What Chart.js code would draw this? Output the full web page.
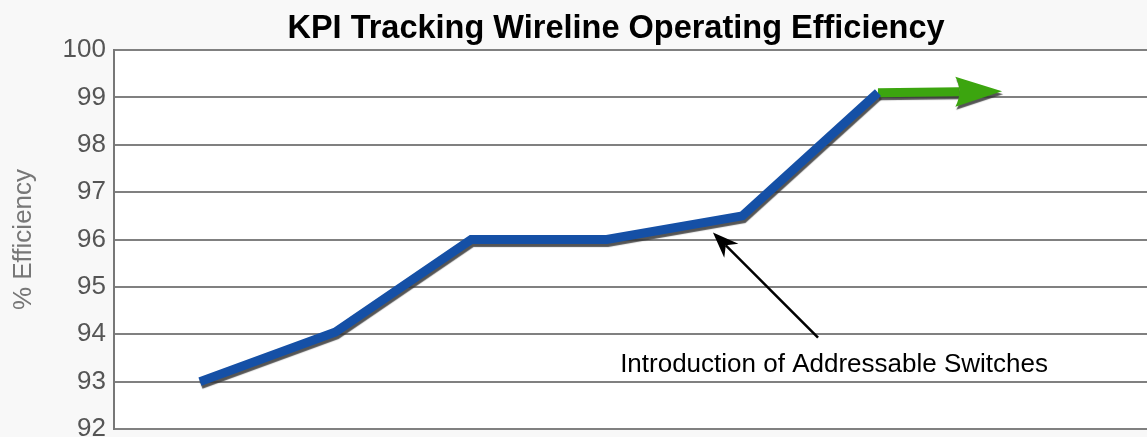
<!DOCTYPE html>
<html>
<head>
<meta charset="utf-8">
<script src="https://cdn.jsdelivr.net/npm/chart.js@4.4.1/dist/chart.umd.min.js"></script>
<style>
    html, body { margin: 0; padding: 0; background: #f8f8f8; }
    #wrap { width: 1147px; height: 437px; position: relative; }
</style>
</head>
<body>
<div id="wrap"><canvas id="kpiChart"></canvas></div>
<script>
// data - START
const periods = [1, 2, 3, 4, 5, 6];
const efficiency = [93.0, 94.05, 96.0, 96.0, 96.5, 99.1];
const trendX = [6, 6.6];
const trendY = [99.1, 99.12];
const trendTip = [6.915, 99.13];
const yTicks = [92, 93, 94, 95, 96, 97, 98, 99, 100];
const noteText = 'Introduction of Addressable Switches';
const noteTip = [4.783, 96.15];
const noteTail = [5.558, 93.93];
const notePos = [5.676, 93.4];
const chartTitle = 'KPI Tracking Wireline Operating Efficiency';
// data - END

const FONT = '"Liberation Sans", Arial, sans-serif';

let shadowPlugin = {
    id: 'lineShadow',
    beforeDatasetDraw(chart) {
        let ctx = chart.ctx;
        ctx.save();
        ctx.shadowColor = 'rgba(55, 55, 55, 0.85)';
        ctx.shadowOffsetX = 1;
        ctx.shadowOffsetY = 3;
        ctx.shadowBlur = 1;
    },
    afterDatasetDraw(chart) {
        chart.ctx.restore();
    }
};

let extrasPlugin = {
    id: 'extras',
    afterDatasetsDraw(chart) {
        let ctx = chart.ctx;
        let xs = chart.scales.x;
        let ys = chart.scales.y;

        // green arrow head
        let bx = xs.getPixelForValue(trendX[trendX.length - 1]);
        let by = ys.getPixelForValue(trendY[trendY.length - 1]);
        let tx = xs.getPixelForValue(trendTip[0]);
        let ty = ys.getPixelForValue(trendTip[1]);
        ctx.save();
        ctx.shadowColor = 'rgba(55, 55, 55, 0.85)';
        ctx.shadowOffsetX = 1;
        ctx.shadowOffsetY = 3;
        ctx.shadowBlur = 1;
        ctx.fillStyle = '#3ca50f';
        ctx.beginPath();
        ctx.moveTo(tx, ty);
        ctx.lineTo(bx - 4, by - 15);
        ctx.quadraticCurveTo(bx + 4, by, bx - 4, by + 15);
        ctx.closePath();
        ctx.fill();
        ctx.restore();

        // annotation arrow
        let ax = xs.getPixelForValue(noteTip[0]);
        let ay = ys.getPixelForValue(noteTip[1]);
        let lx = xs.getPixelForValue(noteTail[0]);
        let ly = ys.getPixelForValue(noteTail[1]);
        let ang = Math.atan2(ay - ly, ax - lx);
        let hl = 26, hw = 10;
        ctx.save();
        ctx.strokeStyle = '#000';
        ctx.fillStyle = '#000';
        ctx.lineWidth = 2.5;
        ctx.beginPath();
        ctx.moveTo(lx, ly);
        ctx.lineTo(ax - Math.cos(ang) * hl * 0.7, ay - Math.sin(ang) * hl * 0.7);
        ctx.stroke();
        ctx.beginPath();
        ctx.moveTo(ax, ay);
        ctx.lineTo(ax - Math.cos(ang) * hl + Math.sin(ang) * hw, ay - Math.sin(ang) * hl - Math.cos(ang) * hw);
        ctx.lineTo(ax - Math.cos(ang) * hl * 0.7, ay - Math.sin(ang) * hl * 0.7);
        ctx.lineTo(ax - Math.cos(ang) * hl - Math.sin(ang) * hw, ay - Math.sin(ang) * hl + Math.cos(ang) * hw);
        ctx.closePath();
        ctx.fill();

        // annotation text
        ctx.font = '26px ' + FONT;
        ctx.textAlign = 'center';
        ctx.textBaseline = 'alphabetic';
        ctx.fillText(noteText, xs.getPixelForValue(notePos[0]), ys.getPixelForValue(notePos[1]) + 9);

        // title
        ctx.font = 'bold 32.5px ' + FONT;
        ctx.fillText(chartTitle, 616, 38);
        ctx.restore();
    }
};

let bgPlugin = {
    id: 'plotBg',
    beforeDraw(chart) {
        let a = chart.chartArea;
        let ctx = chart.ctx;
        ctx.save();
        ctx.fillStyle = '#ffffff';
        ctx.fillRect(a.left, a.top, a.right - a.left, a.bottom - a.top);
        ctx.restore();
    }
};

let ctx = document.getElementById('kpiChart');
let kpiChart = new Chart(ctx, {
    type: 'line',
    data: {
        datasets: [{
            label: 'Efficiency',
            data: periods.map((p, i) => ({ x: p, y: efficiency[i] })),
            borderColor: '#1550a6',
            borderWidth: 9,
            pointRadius: 0,
            tension: 0,
            borderJoinStyle: 'miter',
            borderCapStyle: 'butt'
        }, {
            label: 'Trend',
            data: trendX.map((p, i) => ({ x: p, y: trendY[i] })),
            borderColor: '#3ca50f',
            borderWidth: 9,
            pointRadius: 0,
            borderCapStyle: 'butt'
        }]
    },
    options: {
        responsive: true,
        maintainAspectRatio: false,
        animation: false,
        layout: { padding: { top: 50, right: 0, bottom: 8, left: 0 } },
        plugins: {
            legend: { display: false },
            tooltip: { enabled: false }
        },
        scales: {
            x: {
                type: 'linear',
                min: 0.366,
                max: 7.984,
                display: false
            },
            y: {
                min: 92,
                max: 100,
                afterBuildTicks: (s) => { s.ticks = yTicks.map(v => ({ value: v })); },
                afterFit: (s) => {
                    s.width = 114;
                    s.paddingTop = 0;
                    s.paddingBottom = 0;
                },
                grid: {
                    color: '#808080',
                    lineWidth: 2,
                    drawTicks: false
                },
                border: { color: '#777777', width: 2 },
                ticks: {
                    padding: 8,
                    color: '#555555',
                    font: { family: FONT, size: 26 }
                },
                title: {
                    display: true,
                    text: '% Efficiency',
                    color: '#777777',
                    padding: { top: 8, bottom: 0 },
                    font: { family: FONT, size: 26 }
                }
            }
        }
    },
    plugins: [bgPlugin, shadowPlugin, extrasPlugin]
});
</script>
</body>
</html>
